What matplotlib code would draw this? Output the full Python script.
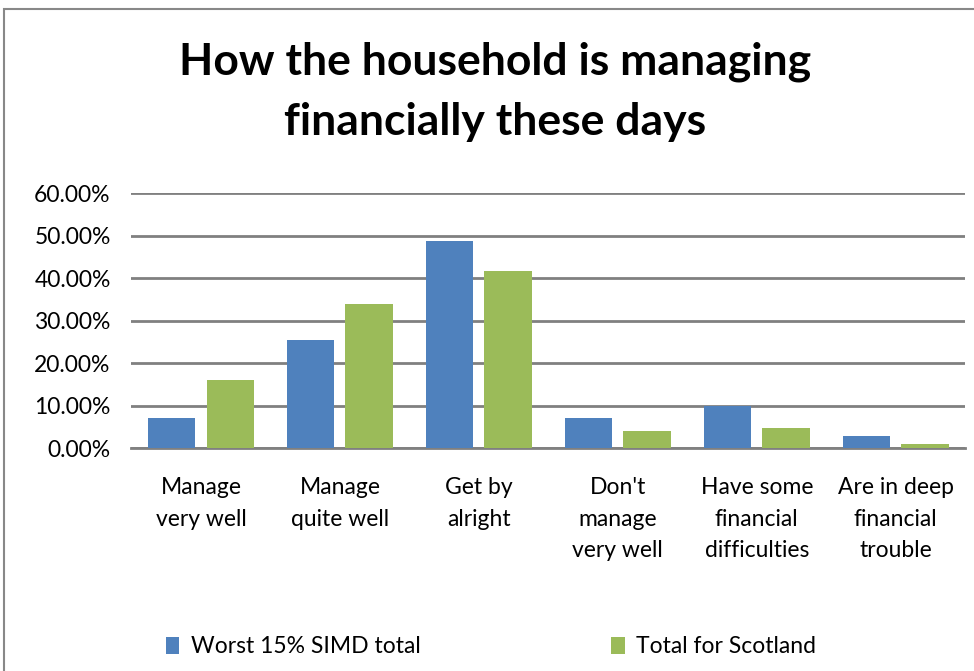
import numpy as np
import matplotlib
matplotlib.use("Agg")
import matplotlib.pyplot as plt
from matplotlib.patches import Rectangle

categories = ["Manage\nvery well", "Manage\nquite well", "Get by\nalright",
              "Don't\nmanage\nvery well", "Have some\nfinancial\ndifficulties",
              "Are in deep\nfinancial\ntrouble"]
worst_simd = [7.1, 25.5, 48.6, 7.1, 10.0, 2.9]
scotland = [15.9, 33.8, 41.6, 3.9, 4.8, 1.0]
yticks = [0, 10, 20, 30, 40, 50, 60]

plt.rcParams['font.family'] = ['Lato', 'DejaVu Sans']

fig = plt.figure(figsize=(9.74, 6.71), dpi=100)
ax = fig.add_axes([0.135, 0.3323, 0.856, 0.380])

x = np.arange(len(categories))
w = 0.34
ax.bar(x - 0.21, worst_simd, w, color="#4F81BD", label="Worst 15% SIMD total", zorder=3)
ax.bar(x + 0.21, scotland, w, color="#9BBB59", label="Total for Scotland", zorder=3)

ax.set_xlim(-0.5, len(categories) - 0.5)
ax.set_ylim(0, 60)
ax.set_yticks(yticks)
ax.set_yticklabels(["%.2f%%" % v for v in yticks], fontsize=16.5)
ax.set_xticks(x)
ax.set_xticklabels(categories, fontsize=16.5, linespacing=1.62)
ax.tick_params(axis="y", length=0, pad=15)
ax.tick_params(axis="x", length=0, pad=21)
ax.grid(axis="y", color="#808080", linewidth=2, zorder=0)
for s in ["top", "right", "left"]:
    ax.spines[s].set_visible(False)
ax.spines["bottom"].set_color("#808080")
ax.spines["bottom"].set_linewidth(2)

fig.text(0.508, 0.863, "How the household is managing\nfinancially these days",
         ha="center", va="center", fontsize=32, fontweight="bold", linespacing=1.6)

leg = fig.legend(loc="center", bbox_to_anchor=(0.504, 0.036), ncol=2, frameon=False,
                 fontsize=16.5, handlelength=0.6, handleheight=0.8, handletextpad=0.5,
                 columnspacing=8.3)

fig.patches.append(Rectangle((4 / 974, -0.1), 1.2, 1 - 9 / 671 + 0.1,
                             transform=fig.transFigure, fill=False,
                             edgecolor="#888888", linewidth=1.5))

fig.savefig("out.png", dpi=100)
